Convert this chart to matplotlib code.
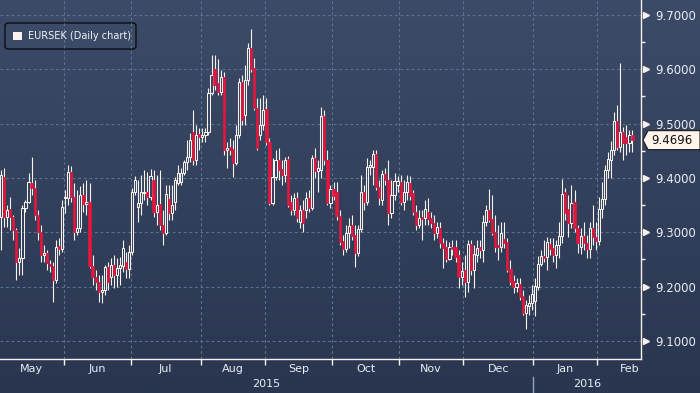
import numpy as np
import pandas as pd
import matplotlib
matplotlib.use("Agg")
import matplotlib.pyplot as plt
from matplotlib.patches import Rectangle, FancyBboxPatch, Polygon
from matplotlib.collections import LineCollection
from matplotlib.colors import LinearSegmentedColormap
from matplotlib.transforms import IdentityTransform

# EURSEK daily candles, 1 May 2015 .. 16 Feb 2016 (business days)
opens = [
    9.328, 9.402, 9.328, 9.343, 9.328, 9.304, 9.245, 9.253, 9.345, 9.356, 9.391, 9.381, 9.332, 9.300, 9.258,
    9.262, 9.241, 9.238, 9.212, 9.275, 9.269, 9.363, 9.363, 9.411, 9.365, 9.300, 9.308, 9.369, 9.352, 9.356,
    9.238, 9.217, 9.208, 9.190, 9.194, 9.236,
    9.217, 9.240, 9.221, 9.234, 9.238, 9.245, 9.232, 9.264, 9.374, 9.346, 9.354, 9.372, 9.374, 9.365, 9.396,
    9.337, 9.352, 9.313, 9.298, 9.361, 9.335, 9.356, 9.391, 9.393, 9.409, 9.429, 9.438,
    9.485, 9.433, 9.481, 9.475,
    9.479, 9.485, 9.556, 9.600, 9.575, 9.558, 9.586, 9.451, 9.457, 9.453, 9.427, 9.479, 9.577, 9.516, 9.580,
    9.639, 9.602, 9.529, 9.479, 9.497, 9.527, 9.466, 9.354, 9.402, 9.433, 9.416, 9.405, 9.435, 9.356, 9.341,
    9.363,
    9.319, 9.341, 9.341, 9.363, 9.345, 9.437, 9.413, 9.415, 9.514, 9.433, 9.354, 9.380, 9.374, 9.330, 9.284,
    9.269, 9.298, 9.313, 9.295, 9.262, 9.306, 9.374, 9.356, 9.420, 9.420, 9.444, 9.383, 9.359, 9.407, 9.396,
    9.335, 9.369, 9.387, 9.392, 9.356, 9.374,
    9.391, 9.372, 9.337, 9.313, 9.328, 9.326, 9.337, 9.326, 9.317, 9.298, 9.308, 9.280, 9.273, 9.251, 9.273,
    9.273, 9.258, 9.217, 9.230, 9.208, 9.278, 9.230, 9.258, 9.273, 9.267, 9.319, 9.341, 9.324, 9.300, 9.276,
    9.273, 9.287, 9.282, 9.232, 9.210, 9.199, 9.205, 9.182, 9.151,
    9.164, 9.170, 9.173, 9.199, 9.241, 9.256, 9.254, 9.278, 9.271, 9.258, 9.276, 9.293, 9.374, 9.343, 9.317,
    9.356, 9.308, 9.273, 9.293, 9.280, 9.269, 9.308, 9.291, 9.284, 9.343, 9.361, 9.415, 9.433, 9.451, 9.505,
    9.457, 9.485, 9.475, 9.464, 9.479,
]
highs = [
    9.415, 9.418, 9.350, 9.365, 9.332, 9.308, 9.271, 9.350, 9.359, 9.409, 9.439, 9.396, 9.341, 9.313, 9.276,
    9.267, 9.249, 9.245, 9.286, 9.289, 9.359, 9.378, 9.424, 9.422, 9.391, 9.378, 9.385, 9.391, 9.396, 9.391,
    9.258, 9.230, 9.221, 9.221, 9.240, 9.245,
    9.253, 9.258, 9.253, 9.254, 9.286, 9.264, 9.276, 9.381, 9.404, 9.396, 9.405, 9.415, 9.411, 9.416, 9.415,
    9.405, 9.415, 9.341, 9.387, 9.387, 9.387, 9.402, 9.424, 9.418, 9.433, 9.470, 9.483,
    9.525, 9.497, 9.492, 9.492,
    9.492, 9.565, 9.626, 9.626, 9.619, 9.599, 9.595, 9.466, 9.474, 9.470, 9.497, 9.584, 9.589, 9.608, 9.648,
    9.674, 9.621, 9.547, 9.547, 9.553, 9.547, 9.474, 9.437, 9.451, 9.455, 9.433, 9.439, 9.440, 9.369, 9.372,
    9.374,
    9.350, 9.359, 9.374, 9.378, 9.442, 9.455, 9.433, 9.531, 9.525, 9.451, 9.387, 9.393, 9.393, 9.341, 9.295,
    9.313, 9.326, 9.332, 9.313, 9.313, 9.405, 9.387, 9.437, 9.433, 9.451, 9.451, 9.396, 9.415, 9.418, 9.433,
    9.396, 9.409, 9.404, 9.405, 9.396, 9.405,
    9.404, 9.378, 9.350, 9.341, 9.341, 9.359, 9.363, 9.337, 9.332, 9.319, 9.319, 9.289, 9.286, 9.282, 9.286,
    9.286, 9.267, 9.245, 9.258, 9.286, 9.286, 9.276, 9.286, 9.286, 9.332, 9.350, 9.380, 9.369, 9.332, 9.313,
    9.319, 9.319, 9.289, 9.249, 9.221, 9.216, 9.216, 9.194, 9.175,
    9.184, 9.203, 9.216, 9.256, 9.267, 9.286, 9.291, 9.289, 9.289, 9.286, 9.319, 9.398, 9.381, 9.369, 9.387,
    9.378, 9.313, 9.308, 9.319, 9.295, 9.319, 9.350, 9.319, 9.365, 9.393, 9.424, 9.448, 9.468, 9.521, 9.534,
    9.612, 9.494, 9.497, 9.488, 9.488,
]
lows = [
    9.267, 9.310, 9.310, 9.304, 9.286, 9.212, 9.221, 9.221, 9.337, 9.354, 9.369, 9.322, 9.286, 9.245, 9.245,
    9.230, 9.227, 9.171, 9.206, 9.258, 9.264, 9.335, 9.350, 9.356, 9.286, 9.295, 9.300, 9.337, 9.332, 9.234,
    9.203, 9.194, 9.171, 9.170, 9.184, 9.194,
    9.203, 9.197, 9.199, 9.203, 9.227, 9.216, 9.216, 9.258, 9.369, 9.319, 9.332, 9.359, 9.350, 9.359, 9.328,
    9.313, 9.304, 9.276, 9.295, 9.322, 9.322, 9.341, 9.387, 9.387, 9.405, 9.415, 9.429,
    9.424, 9.424, 9.451, 9.466,
    9.466, 9.479, 9.552, 9.562, 9.552, 9.552, 9.442, 9.418, 9.442, 9.402, 9.424, 9.474, 9.497, 9.497, 9.571,
    9.595, 9.525, 9.451, 9.470, 9.488, 9.461, 9.350, 9.350, 9.396, 9.396, 9.387, 9.393, 9.346, 9.332, 9.332,
    9.319,
    9.308, 9.300, 9.326, 9.337, 9.341, 9.400, 9.374, 9.400, 9.424, 9.350, 9.345, 9.359, 9.322, 9.276, 9.258,
    9.264, 9.271, 9.286, 9.236, 9.256, 9.300, 9.341, 9.350, 9.405, 9.387, 9.378, 9.350, 9.350, 9.387, 9.313,
    9.326, 9.359, 9.374, 9.350, 9.341, 9.359,
    9.359, 9.332, 9.304, 9.308, 9.286, 9.313, 9.313, 9.308, 9.286, 9.289, 9.271, 9.234, 9.245, 9.249, 9.258,
    9.245, 9.197, 9.203, 9.181, 9.190, 9.221, 9.197, 9.245, 9.253, 9.245, 9.311, 9.319, 9.295, 9.264, 9.249,
    9.264, 9.271, 9.227, 9.203, 9.188, 9.190, 9.175, 9.147, 9.122,
    9.147, 9.157, 9.146, 9.194, 9.238, 9.245, 9.230, 9.258, 9.245, 9.234, 9.253, 9.280, 9.322, 9.291, 9.308,
    9.300, 9.262, 9.260, 9.267, 9.253, 9.253, 9.276, 9.267, 9.276, 9.326, 9.350, 9.400, 9.400, 9.442, 9.451,
    9.448, 9.433, 9.442, 9.448, 9.448,
]
closes = [
    9.405, 9.328, 9.341, 9.328, 9.304, 9.245, 9.253, 9.345, 9.356, 9.393, 9.381, 9.332, 9.300, 9.258, 9.262,
    9.243, 9.238, 9.212, 9.273, 9.269, 9.346, 9.365, 9.411, 9.365, 9.300, 9.308, 9.369, 9.352, 9.356, 9.238,
    9.217, 9.208, 9.190, 9.194, 9.236, 9.208,
    9.240, 9.221, 9.234, 9.240, 9.271, 9.232, 9.264, 9.374, 9.396, 9.354, 9.374, 9.374, 9.365, 9.404, 9.337,
    9.350, 9.313, 9.298, 9.370, 9.335, 9.350, 9.396, 9.409, 9.409, 9.429, 9.438, 9.470,
    9.433, 9.479, 9.475, 9.479,
    9.485, 9.556, 9.589, 9.571, 9.558, 9.586, 9.451, 9.455, 9.451, 9.427, 9.479, 9.577, 9.507, 9.580, 9.639,
    9.600, 9.529, 9.455, 9.497, 9.525, 9.466, 9.354, 9.402, 9.433, 9.415, 9.405, 9.433, 9.350, 9.341, 9.363,
    9.326,
    9.341, 9.317, 9.363, 9.345, 9.437, 9.413, 9.418, 9.514, 9.433, 9.354, 9.380, 9.367, 9.330, 9.282, 9.269,
    9.298, 9.311, 9.293, 9.262, 9.306, 9.374, 9.356, 9.420, 9.424, 9.444, 9.383, 9.363, 9.407, 9.396, 9.335,
    9.369, 9.394, 9.394, 9.356, 9.374, 9.392,
    9.367, 9.337, 9.313, 9.326, 9.324, 9.343, 9.324, 9.317, 9.298, 9.310, 9.280, 9.271, 9.251, 9.273, 9.269,
    9.254, 9.217, 9.228, 9.208, 9.278, 9.230, 9.260, 9.271, 9.267, 9.319, 9.341, 9.322, 9.298, 9.273, 9.273,
    9.298, 9.280, 9.230, 9.208, 9.199, 9.206, 9.181, 9.151, 9.166,
    9.170, 9.186, 9.201, 9.241, 9.256, 9.253, 9.282, 9.269, 9.258, 9.276, 9.293, 9.370, 9.335, 9.317, 9.354,
    9.308, 9.280, 9.293, 9.280, 9.269, 9.308, 9.291, 9.284, 9.343, 9.361, 9.415, 9.435, 9.451, 9.505, 9.457,
    9.485, 9.464, 9.464, 9.479, 9.4696,
]
yticks = [9.1, 9.2, 9.3, 9.4, 9.5, 9.6, 9.7]
legend_label = "EURSEK (Daily chart)"

n = len(closes)
dates = pd.bdate_range("2015-05-01", periods=n)
x = np.arange(n)

W, H = 700, 393
fig = plt.figure(figsize=(W / 100, H / 100), dpi=100)

# gradient background over the whole figure
bg = fig.add_axes([0, 0, 1, 1], zorder=0)
cmap = LinearSegmentedColormap.from_list("bb", ["#3c4b68", "#2a3650"])
bg.imshow(np.linspace(0, 1, 256).reshape(-1, 1), aspect="auto", cmap=cmap,
          extent=[0, 1, 0, 1], origin="upper")
bg.axis("off")

ax = fig.add_axes([0, 34 / H, 641 / W, 359 / H], zorder=1)
ax.patch.set_alpha(0)
ax.set_xlim(-0.35, 209.8)
ax.set_ylim(9.0667, 9.7276)

# candles: up = hollow white, down = solid red
white = "#f6f1ea"
red = "#e3173e"
wicks = []
bw = 0.72
for i in range(n):
    o, h, l, c = opens[i], highs[i], lows[i], closes[i]
    lo, hi = min(o, c), max(o, c)
    wicks.append([(x[i], l), (x[i], lo)])
    wicks.append([(x[i], hi), (x[i], h)])
    if c >= o:
        ax.add_patch(Rectangle((x[i] - bw / 2, lo), bw, hi - lo, facecolor="none",
                               edgecolor=white, lw=0.75, zorder=3))
    else:
        ax.add_patch(Rectangle((x[i] - bw / 2, lo), bw, hi - lo, facecolor=red,
                               edgecolor=red, lw=0.5, zorder=3))
ax.add_collection(LineCollection(wicks, colors=white, linewidths=0.8, zorder=2))

# month boundaries
starts = [0] + [i for i in range(1, n) if dates[i].month != dates[i - 1].month]
bounds = [i - 0.5 for i in starts[1:]]
ax.set_xticks(bounds)
ax.set_xticklabels([])
ax.tick_params(axis="x", direction="out", length=4, width=1, color=white)

ax.yaxis.tick_right()
ax.set_yticks(yticks)
ax.set_yticklabels(["%.4f" % v for v in yticks])
ax.set_yticks([v + 0.05 for v in yticks[:-1]], minor=True)
ax.tick_params(axis="y", which="major", length=0, pad=10, labelsize=8.5, labelcolor="#e8edf3")
ax.tick_params(axis="y", which="minor", direction="out", length=3, width=1, color=white)
ax.plot(np.full(len(yticks), 1 + 5 / 641), yticks, ls="none", marker=">", ms=4.5,
        color=white, transform=ax.get_yaxis_transform(), clip_on=False)

ax.grid(True, which="major", color="#5a7391", lw=0.8, ls=(0, (2.5, 2.5)))
for s in ["top", "left"]:
    ax.spines[s].set_visible(False)
for s in ["right", "bottom"]:
    ax.spines[s].set_color(white)
    ax.spines[s].set_linewidth(1)

# month labels, centred on the full month of business days
xt = ax.get_xaxis_transform()
for s in starts:
    d = dates[s]
    m0 = pd.Timestamp(d.year, d.month, 1)
    month_days = pd.bdate_range(m0, m0 + pd.offsets.MonthEnd(0))
    left = s - 0.5 - list(month_days).index(d)
    ax.text(left + len(month_days) / 2, -10 / 359, d.strftime("%b"), transform=xt, ha="center",
            va="center", fontsize=8, color="#e8edf3", clip_on=False)

jan = [b for b, s in zip(bounds, starts[1:]) if dates[s].month == 1][0]
ax.text((ax.get_xlim()[0] + jan) / 2, -25 / 359, "2015", transform=xt, ha="center",
        va="center", fontsize=8, color="#e8edf3")
ax.text((jan + ax.get_xlim()[1]) / 2, -25 / 359, "2016", transform=xt, ha="center",
        va="center", fontsize=8, color="#e8edf3")
ax.plot([jan, jan], [-18 / 359, -34 / 359], color="#9aa3b3", lw=1, transform=xt, clip_on=False)

# last price tag
fig.canvas.draw()
yd = ax.transData.transform((0, closes[-1]))[1]
tag = Polygon([(643, yd), (648, yd + 9.5), (700, yd + 9.5), (700, yd - 9.5), (648, yd - 9.5)],
              closed=True, facecolor="#fff4ec", edgecolor="#1a1a1a", lw=0.8,
              transform=IdentityTransform())
fig.add_artist(tag)
fig.text(651 / W, yd / H, "%.4f" % closes[-1], ha="left", va="center", fontsize=8.5, color="#111111")

# legend box
box = FancyBboxPatch((5, H - 49), 131, 26, boxstyle="round,pad=0,rounding_size=3",
                     facecolor="#3b4a66", edgecolor="#0c0d12", lw=1, transform=IdentityTransform())
fig.add_artist(box)
fig.add_artist(Rectangle((13, H - 40), 9, 8, facecolor="#fdf1ee", edgecolor="none",
                         transform=IdentityTransform()))
fig.text(28 / W, (H - 36) / H, legend_label, ha="left", va="center", fontsize=7, color="#f2f2f2")

fig.savefig("out.png", dpi=100)
